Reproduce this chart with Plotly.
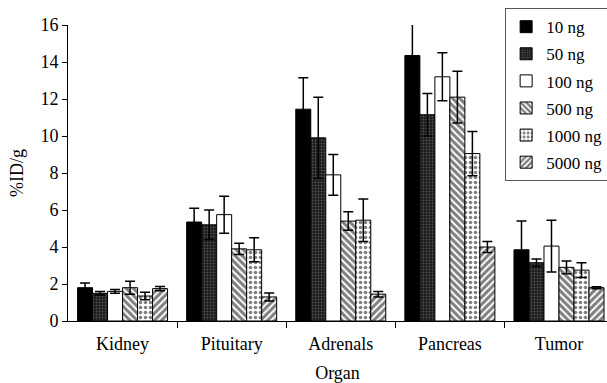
import plotly.graph_objects as go

organs = ["Kidney", "Pituitary", "Adrenals", "Pancreas", "Tumor"]
doses = ["10 ng", "50 ng", "100 ng", "500 ng", "1000 ng", "5000 ng"]

# %ID/g per organ for each dose, with standard deviations
uptake = {
    "10 ng":   [1.80, 5.35, 11.45, 14.35, 3.85],
    "50 ng":   [1.50, 5.20, 9.90, 11.15, 3.15],
    "100 ng":  [1.60, 5.75, 7.90, 13.20, 4.05],
    "500 ng":  [1.80, 3.90, 5.40, 12.10, 2.90],
    "1000 ng": [1.35, 3.85, 5.45, 9.05, 2.75],
    "5000 ng": [1.75, 1.30, 1.45, 4.00, 1.80],
}
sd = {
    "10 ng":   [0.25, 0.75, 1.70, 1.70, 1.55],
    "50 ng":   [0.10, 0.80, 2.20, 1.15, 0.20],
    "100 ng":  [0.10, 1.00, 1.10, 1.30, 1.40],
    "500 ng":  [0.35, 0.30, 0.50, 1.40, 0.35],
    "1000 ng": [0.20, 0.65, 1.15, 1.20, 0.40],
    "5000 ng": [0.12, 0.22, 0.15, 0.30, 0.05],
}

fills = {
    "10 ng":   dict(color="#000000"),
    "50 ng":   dict(color="#1e1e1e", pattern=dict(shape=".", fgcolor="#8a8a8a", bgcolor="#1a1a1a", size=3, solidity=0.3)),
    "100 ng":  dict(color="#ffffff"),
    "500 ng":  dict(color="#ffffff", pattern=dict(shape="\\", fgcolor="#000000", bgcolor="#ffffff", size=5, solidity=0.6)),
    "1000 ng": dict(color="#ffffff", pattern=dict(shape=".", fgcolor="#000000", bgcolor="#ffffff", size=5, solidity=0.4)),
    "5000 ng": dict(color="#ffffff", pattern=dict(shape="/", fgcolor="#000000", bgcolor="#ffffff", size=5, solidity=0.6)),
}

font = "Liberation Serif"
tfont = dict(family=font, size=18, color="#000000")
lfont = dict(family=font, size=17, color="#000000")
xpos = list(range(len(organs)))

fig = go.Figure()
for d in doses:
    fig.add_trace(go.Bar(
        name=d, x=xpos, y=uptake[d], legendgroup=d,
        marker=dict(line=dict(color="#000000", width=1), **fills[d]),
        error_y=dict(type="data", array=sd[d], symmetric=True,
                     color="#000000", thickness=1.5, width=5),
    ))

fig.update_layout(
    width=607, height=383,
    margin=dict(l=68, r=0, t=25, b=62, autoexpand=False),
    barmode="group", bargap=0.175, bargroupgap=0,
    plot_bgcolor="white", paper_bgcolor="white",
    font=tfont,
    legend=dict(x=0.811, y=1.057, xanchor="left", yanchor="top",
                bgcolor="rgba(255,255,255,0)", bordercolor="#555555", borderwidth=1,
                font=lfont, tracegroupgap=2, itemwidth=30),
    xaxis=dict(
        range=[-0.5, 4.44], tickmode="array", tickvals=xpos, ticktext=organs,
        tickfont=tfont,
        ticks="", showline=True, linecolor="#000000", linewidth=1,
        showgrid=False, zeroline=False, ticklabelstandoff=6,
        minor=dict(tickmode="array", tickvals=[0.5, 1.5, 2.5, 3.5],
                   ticks="outside", ticklen=6, tickcolor="#000000", showgrid=False),
        title=dict(text="Organ", standoff=14, font=tfont),
    ),
    yaxis=dict(
        range=[0, 16], tickvals=list(range(0, 17, 2)), tickfont=tfont,
        ticks="outside", ticklen=5, tickcolor="#000000",
        showline=True, linecolor="#000000", linewidth=1,
        showgrid=False, zeroline=False,
        title=dict(text="%ID/g", standoff=12, font=tfont),
    ),
)

fig.write_html("out.html")
